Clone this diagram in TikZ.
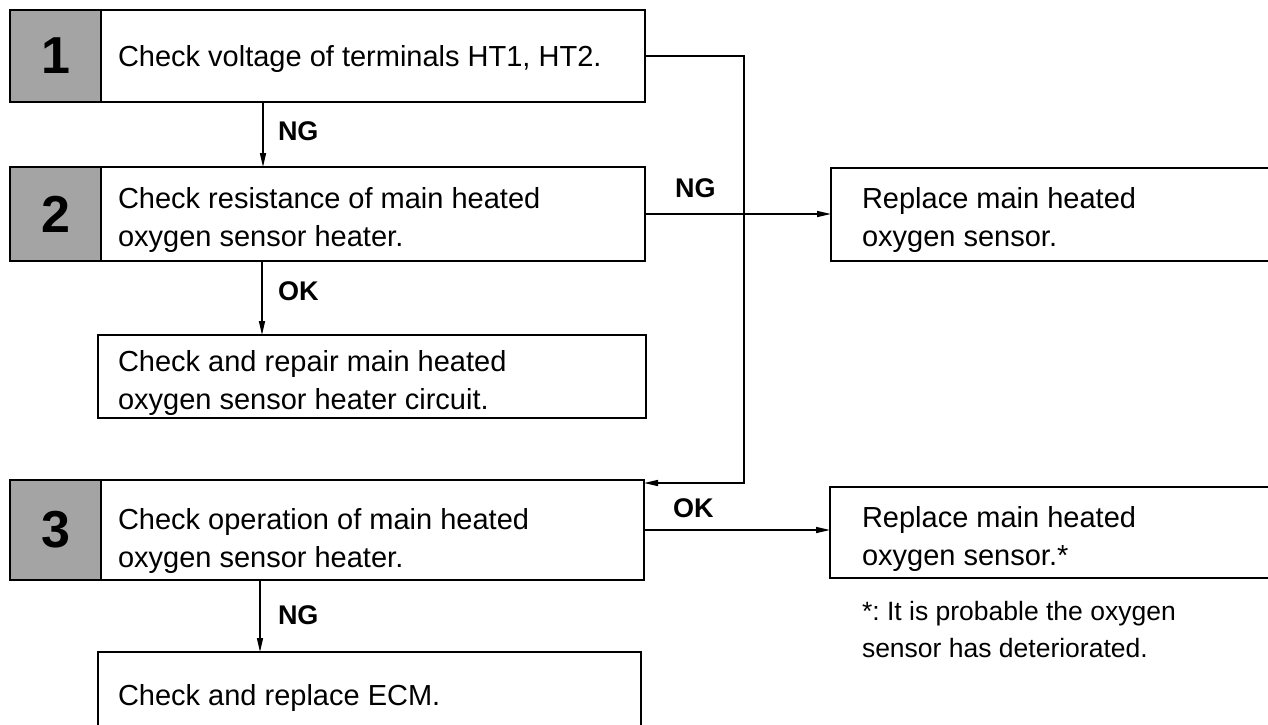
\documentclass[tikz,border=0pt]{standalone}
\usepackage{fontspec}
\setmainfont{Liberation Sans}
\usetikzlibrary{arrows.meta}
\definecolor{stepgray}{HTML}{A4A4A4}
\frenchspacing
\begin{document}
\begin{tikzpicture}[x=1pt,y=-1pt,
  every node/.style={inner sep=0pt, outer sep=0pt},
  frame/.style={draw, line width=1.8pt, rectangle, anchor=north west},
  stepbox/.style={frame, fill=stepgray, minimum width=91pt, font=\bfseries\fontsize{52}{52}\selectfont},
  txt/.style={anchor=base west, font=\fontsize{29}{38}\selectfont},
  note/.style={anchor=base west, font=\fontsize{26.5}{37}\selectfont},
  lbl/.style={anchor=base west, font=\bfseries\fontsize{27}{27}\selectfont},
  conn/.style={line width=1.5pt},
  arr/.style={conn, -{Triangle[length=14pt,width=6pt]}}]
\clip (0,0) rectangle (1268,724);
\fill[white] (0,0) rectangle (1268,724);
% step 1
\node[stepbox, minimum height=92pt] (s1) at (10,10) {1};
\node[frame, minimum width=544pt, minimum height=92pt] (t1) at (101,10) {};
\node[txt] (t1a) at (118,66) {Check voltage of terminals HT1, HT2.};
% step 2
\node[stepbox, minimum height=94pt] (s2) at (10,167) {2};
\node[frame, minimum width=544pt, minimum height=94pt] (t2) at (101,167) {};
\node[txt] (t2a) at (118,208) {Check resistance of main heated};
\node[txt] (t2b) at (118,246) {oxygen sensor heater.};
% repair circuit
\node[frame, minimum width=548pt, minimum height=83pt] (rep) at (98,335) {};
\node[txt] (repa) at (118,371) {Check and repair main heated};
\node[txt] (repb) at (118,409) {oxygen sensor heater circuit.};
% step 3
\node[stepbox, minimum height=100pt] (s3) at (10,480) {3};
\node[frame, minimum width=543pt, minimum height=100pt] (t3) at (101,480) {};
\node[txt] (t3a) at (118,529) {Check operation of main heated};
\node[txt] (t3b) at (118,567) {oxygen sensor heater.};
% ECM
\node[frame, minimum width=543pt, minimum height=120pt] (ecm) at (98,652) {};
\node[txt] (ecma) at (118,705) {Check and replace ECM.};
% replace boxes
\node[frame, minimum width=500pt, minimum height=93pt] (rp1) at (831,168) {};
\node[txt] (rp1a) at (862,208) {Replace main heated};
\node[txt] (rp1b) at (862,246) {oxygen sensor.};
\node[frame, minimum width=500pt, minimum height=91pt] (rp2) at (830,487) {};
\node[txt] (rp2a) at (862,527) {Replace main heated};
\node[txt] (rp2b) at (862,565) {oxygen sensor.*};
\node[note] (fn1) at (862,620) {*: It is probable the oxygen};
\node[note] (fn2) at (862,657) {sensor has deteriorated.};
% connectors
\coordinate (xa) at (263,0);
\coordinate (xb) at (262,0);
\coordinate (xc) at (260,0);
\coordinate (ya) at (0,214);
\coordinate (yb) at (0,530);
\coordinate (loopA) at (744,56);
\coordinate (loopB) at (744,483);
\draw[arr] (t1.south -| xa) -- (t2.north -| xa);
\draw[arr] (t2.south -| xb) -- (rep.north -| xb);
\draw[arr] (t3.south -| xc) -- (ecm.north -| xc);
\draw[arr] (t2.east |- ya) -- (rp1.west |- ya);
\draw[arr] (t3.east |- yb) -- (rp2.west |- yb);
\draw[arr] (t1.east) -- (loopA) -- (loopB) -- (t3.east |- loopB);
% labels
\node[lbl] (l1) at (278,140) {NG};
\node[lbl] (l2) at (675,197) {NG};
\node[lbl] (l3) at (278,300) {OK};
\node[lbl] (l4) at (673,517) {OK};
\node[lbl] (l5) at (278,624) {NG};
\end{tikzpicture}
\end{document}
